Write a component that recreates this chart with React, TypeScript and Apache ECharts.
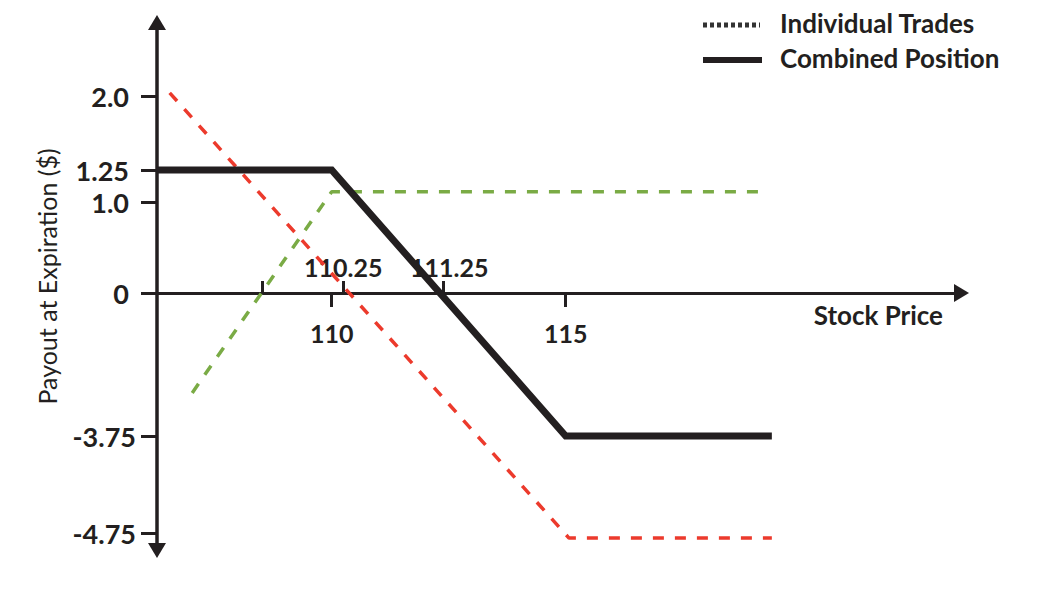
import React, { useEffect, useRef } from 'react';
import * as echarts from 'echarts';

// ---- Data (stock price in $, payout at expiration in $) ----
const redPrices = [107.68, 115.1, 121.25];
const redPayoffs = [2.04, -4.8, -4.8];
const greenPrices = [108.0, 110.0, 121.05];
const greenPayoffs = [-2.62, 1.08, 1.08];
const combinedPrices = [107.5, 110.0, 115.0, 121.25];
const combinedPayoffs = [1.25, 1.25, -3.75, -3.75];

const priceTicksBelow = [110, 115];
const priceLabelsBelow = ['110', '115'];
const priceTicksAbove = [109, 110.25, 111.25];
const priceLabelValuesAbove = [110.25, 111.25];
const priceLabelsAbove = ['110.25', '111.25'];

const payoffTicks = [2.0, 1.25, 1.0, 0, -3.75, -4.75];
const payoffTickLabels = ['2.0', '1.25', '1.0', '0', '-3.75', '-4.75'];

const priceExtent = [107.5, 127];
const payoffExtent = [-4.93, 2.76];

// ---- Schematic (not-to-scale) axis scales: value -> axis units ----
const PRICE_SCALE: [number, number][] = [
  [107.5, 0], [109, 105.7], [110, 174.7], [110.25, 186.3], [111.25, 286.3], [115, 408.7], [127, 804.5],
];
const PAYOFF_SCALE: [number, number][] = [
  [-4.93, -257.5], [-4.75, -240.3], [-3.75, -143], [0, 0], [1, 91], [1.25, 123], [2, 196.3], [2.76, 270.5],
];

function through(knots: [number, number][], v: number): number {
  let i = 0;
  while (i < knots.length - 2 && v > knots[i + 1][0]) i++;
  const [a0, b0] = knots[i];
  const [a1, b1] = knots[i + 1];
  return b0 + ((v - a0) * (b1 - b0)) / (a1 - a0);
}
const px = (v: number) => through(PRICE_SCALE, v);
const py = (v: number) => through(PAYOFF_SCALE, v);

function labelFor(values: number[], labels: string[], map: (v: number) => number) {
  return (val: number) => {
    for (let i = 0; i < values.length; i++) {
      if (Math.abs(map(values[i]) - val) < 0.5) return labels[i];
    }
    return '';
  };
}

const INK = '#231f20';
const RED = '#ec3a2c';
const GREEN = '#7aab45';
const FONT = 'Lato, "Open Sans", sans-serif';

const GRID_TOP = 22.5;
const GRID_BOTTOM_Y = 550.5;
const GRID_H = GRID_BOTTOM_Y - GRID_TOP;

export default function App() {
  const ref = useRef<HTMLDivElement>(null);

  useEffect(() => {
    if (!ref.current) return;
    const chart = echarts.init(ref.current, undefined, { renderer: 'svg' });

    const toPts = (xs: number[], ys: number[]) => xs.map((x, i) => [px(x), py(ys[i])]);
    const xMin = px(priceExtent[0]);
    const xMax = px(priceExtent[1]);
    const yMin = py(payoffExtent[0]);
    const yMax = py(payoffExtent[1]);

    // pixel row of payout 0, used to place the price axes on the zero line
    const zeroFromTop = ((yMax - py(0)) / (yMax - yMin)) * GRID_H;
    const zeroFromBottom = GRID_H - zeroFromTop;

    const yFmt = labelFor(payoffTicks, payoffTickLabels, py);
    const aboveFmt = labelFor(priceLabelValuesAbove, priceLabelsAbove, px);
    const labelFont = { fontFamily: FONT, fontSize: 25, fontWeight: 'bold', color: INK };

    const option: any = {
      animation: false,
      grid: { left: 157, right: 80.5, top: GRID_TOP, bottom: 596 - GRID_BOTTOM_Y, containLabel: false, outerBoundsMode: 'none' },
      xAxis: [
        {
          type: 'value',
          position: 'bottom',
          offset: -zeroFromBottom,
          min: xMin,
          max: xMax,
          axisLine: {
            show: true,
            onZero: false,
            symbol: ['none', 'triangle'],
            symbolSize: [18, 15],
            lineStyle: { color: INK, width: 3 },
          },
          axisTick: {
            show: true,
            customValues: priceTicksBelow.map(px),
            length: 14,
            lineStyle: { color: INK, width: 3 },
          },
          axisLabel: {
            show: true,
            customValues: priceTicksBelow.map(px),
            formatter: labelFor(priceTicksBelow, priceLabelsBelow, px),
            margin: 27,
            ...labelFont,
          },
          splitLine: { show: false },
          name: 'Stock Price',
          nameLocation: 'end',
          nameGap: -18.5,
          nameMoveOverlap: false,
          nameTextStyle: {
            align: 'right',
            verticalAlign: 'top',
            padding: [9, 0, 0, 0],
            color: INK,
            fontFamily: FONT,
            fontSize: 26,
            fontWeight: 'bold',
          },
        },
        {
          type: 'value',
          position: 'top',
          offset: -zeroFromTop,
          min: xMin,
          max: xMax,
          axisLine: {
            show: true,
            onZero: false,
            lineStyle: { color: INK, width: 3 },
          },
          axisTick: {
            show: true,
            customValues: priceTicksAbove.map(px),
            length: 12,
            lineStyle: { color: INK, width: 3 },
          },
          axisLabel: {
            show: true,
            customValues: priceLabelValuesAbove.map(px),
            formatter: (v: number) => {
              const s = aboveFmt(v);
              return s === '111.25' ? `{r|${s}}` : `{c|${s}}`;
            },
            margin: 14,
            ...labelFont,
            rich: {
              c: { ...labelFont },
              r: { ...labelFont, padding: [0, 0, 0, 12] },
            },
          },
          splitLine: { show: false },
        },
      ],
      yAxis: [
        {
          type: 'value',
          position: 'left',
          min: yMin,
          max: yMax,
          axisLine: {
            show: true,
            onZero: false,
            symbol: ['triangle', 'triangle'],
            symbolSize: [18, 15],
            lineStyle: { color: INK, width: 3.5 },
          },
          axisTick: {
            show: true,
            customValues: payoffTicks.map(py),
            length: 16,
            lineStyle: { color: INK, width: 3 },
          },
          axisLabel: {
            show: true,
            customValues: payoffTicks.map(py),
            margin: 21,
            formatter: (v: number) => {
              const s = yFmt(v);
              return s.startsWith('-') ? `{n|${s}}` : `{p|${s}}`;
            },
            rich: {
              p: { fontFamily: FONT, fontSize: 27, fontWeight: 'bold', color: INK, padding: [0, 7, 0, 0] },
              n: { fontFamily: FONT, fontSize: 27, fontWeight: 'bold', color: INK },
            },
          },
          splitLine: { show: false },
          name: 'Payout at Expiration ($)',
          nameLocation: 'middle',
          nameRotate: 90,
          nameGap: 98,
          nameMoveOverlap: false,
          nameTextStyle: {
            color: INK,
            fontFamily: FONT,
            fontSize: 25,
            fontWeight: 'normal',
            padding: [0, 0, 0, 20],
          },
        },
      ],
      graphic: [
        {
          type: 'line',
          shape: { x1: 703, y1: 25, x2: 760, y2: 25 },
          style: { stroke: '#333333', lineWidth: 5, lineDash: [4, 3] },
        },
        {
          type: 'text',
          x: 780,
          y: 22.5,
          style: {
            text: 'Individual Trades',
            fill: INK,
            fontFamily: FONT,
            fontSize: 26,
            fontWeight: 'bold',
            align: 'left',
            verticalAlign: 'middle',
          },
        },
        {
          type: 'line',
          shape: { x1: 703, y1: 60, x2: 762, y2: 60 },
          style: { stroke: INK, lineWidth: 6 },
        },
        {
          type: 'text',
          x: 780,
          y: 57.5,
          style: {
            text: 'Combined Position',
            fill: INK,
            fontFamily: FONT,
            fontSize: 26,
            fontWeight: 'bold',
            align: 'left',
            verticalAlign: 'middle',
          },
        },
      ],
      series: [
        {
          type: 'line',
          name: 'Individual Trades',
          xAxisIndex: 0,
          yAxisIndex: 0,
          data: toPts(redPrices, redPayoffs),
          symbol: 'none',
          silent: true,
          lineStyle: { color: RED, width: 3.5, type: [11, 11] },
        },
        {
          type: 'line',
          name: 'Individual Trades',
          xAxisIndex: 0,
          yAxisIndex: 0,
          data: toPts(greenPrices, greenPayoffs),
          symbol: 'none',
          silent: true,
          lineStyle: { color: GREEN, width: 3.5, type: [11, 11] },
        },
        {
          type: 'line',
          name: 'Combined Position',
          xAxisIndex: 0,
          yAxisIndex: 0,
          data: toPts(combinedPrices, combinedPayoffs),
          symbol: 'none',
          silent: true,
          lineStyle: { color: INK, width: 7, join: 'miter', cap: 'butt' },
        },
      ],
    };

    chart.setOption(option);
    return () => chart.dispose();
  }, []);

  return (
    <div
      ref={ref}
      style={{ position: 'fixed', left: 0, top: 0, width: 1042, height: 596, background: '#ffffff' }}
    />
  );
}
